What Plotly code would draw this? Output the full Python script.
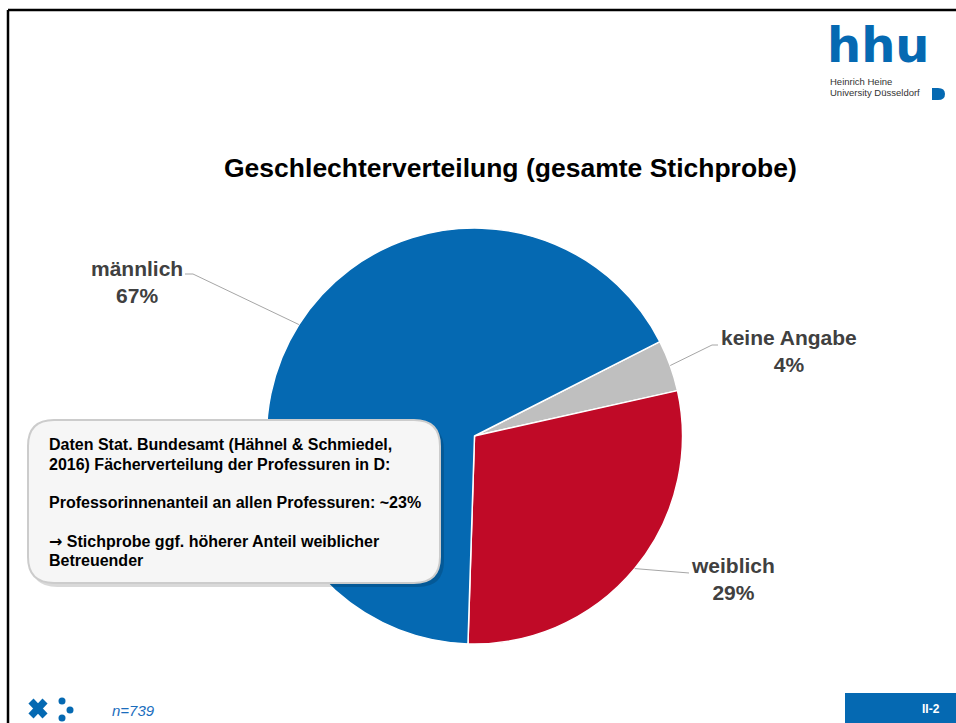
import math
import plotly.graph_objects as go

# data
labels = ["keine Angabe", "weiblich", "männlich"]
values = [4, 29, 67]
colors = ["#bfbfbf", "#c00a27", "#0569b2"]
n_total = 739

title = "Geschlechterverteilung (gesamte Stichprobe)"
note_lines = [
    "Daten Stat. Bundesamt (Hähnel & Schmiedel,",
    "2016) Fächerverteilung der Professuren in D:",
    "Professorinnenanteil an allen Professuren: ~23%",
    "<span style='font-family:DejaVu Sans'>→</span> Stichprobe ggf. höherer Anteil weiblicher",
    "Betreuender",
]

W, H = 956, 723
BLUE = "#0569b2"
FONT = "Liberation Sans, Arial"


def px(x):
    return x / W


def py(y):
    return 1 - y / H


# pie geometry in pixels
cx, cy, r = 474.5, 436, 208
rotation = 63

# label text centre and elbow of leader line (pixels)
label_pos = {
    "männlich": (137, 282, [(193, 274), (185, 274)]),
    "keine Angabe": (789, 351, [(712, 345), (718, 345)]),
    "weiblich": (733, 579, [(689, 573)]),
}

fig = go.Figure()

fig.add_trace(go.Pie(
    labels=labels,
    values=values,
    sort=False,
    direction="clockwise",
    rotation=rotation,
    marker=dict(colors=colors, line=dict(color="white", width=1.5)),
    textinfo="none",
    hoverinfo="label+percent",
    showlegend=False,
    domain=dict(x=[px(cx - r), px(cx + r)], y=[py(cy + r), py(cy - r)]),
))

shapes = []
annotations = []

# leader lines and labels, anchored at the middle of each slice
total = sum(values)
start = rotation
for lab, v in zip(labels, values):
    mid = math.radians(start + 360 * v / total / 2)
    start += 360 * v / total
    ex = cx + r * math.sin(mid)
    ey = cy - r * math.cos(mid)
    tx, ty, elbow = label_pos[lab]
    pts = [(ex, ey)] + elbow
    path = "M " + " L ".join(f"{px(a):.5f},{py(b):.5f}" for a, b in pts)
    shapes.append(dict(type="path", xref="paper", yref="paper", path=path,
                       line=dict(color="#a6a6a6", width=1)))
    annotations.append(dict(
        x=px(tx), y=py(ty), xref="paper", yref="paper", showarrow=False,
        text=f"<b>{lab}<br>{round(100 * v / total)}%</b>",
        font=dict(family=FONT, size=21, color="#404040"),
        xanchor="center", yanchor="middle",
    ))

# title
annotations.append(dict(
    x=px(511), y=py(168), xref="paper", yref="paper", showarrow=False,
    text=f"<b>{title}</b>", xanchor="center", yanchor="middle",
    font=dict(family=FONT, size=26.5, color="black"),
))

# slide frame
shapes.append(dict(type="line", xref="paper", yref="paper",
                   x0=px(8), x1=1.01, y0=py(10), y1=py(10),
                   line=dict(color="black", width=2.5)))
shapes.append(dict(type="line", xref="paper", yref="paper",
                   x0=px(8), x1=px(8), y0=py(10), y1=-0.01,
                   line=dict(color="black", width=2.5)))


def rounded_rect(x0, y0, x1, y1, rad):
    # pixel rect to paper path with rounded corners
    p = lambda a, b: f"{px(a):.5f},{py(b):.5f}"
    return (f"M {p(x0 + rad, y0)} L {p(x1 - rad, y0)} Q {p(x1, y0)} {p(x1, y0 + rad)} "
            f"L {p(x1, y1 - rad)} Q {p(x1, y1)} {p(x1 - rad, y1)} "
            f"L {p(x0 + rad, y1)} Q {p(x0, y1)} {p(x0, y1 - rad)} "
            f"L {p(x0, y0 + rad)} Q {p(x0, y0)} {p(x0 + rad, y0)} Z")


# callout box with a soft shadow
shapes.append(dict(type="path", xref="paper", yref="paper",
                   path=rounded_rect(31, 424, 444, 587, 26),
                   fillcolor="rgba(0,0,0,0.15)", line=dict(width=0)))
shapes.append(dict(type="path", xref="paper", yref="paper",
                   path=rounded_rect(28, 420, 440, 583, 26),
                   fillcolor="#f6f6f6", line=dict(color="#cccccc", width=2)))

note_y = [444, 464, 502, 541, 560]
for txt, yy in zip(note_lines, note_y):
    annotations.append(dict(
        x=px(47), y=py(yy), xref="paper", yref="paper", showarrow=False,
        text=f"<b>{txt}</b>", xanchor="left", yanchor="middle",
        font=dict(family=FONT, size=16, color="black"),
    ))

# hhu logo
annotations.append(dict(
    x=px(825), y=py(45), xref="paper", yref="paper", showarrow=False,
    text="<b>hhu</b>", xanchor="left", yanchor="middle",
    font=dict(family="DejaVu Sans", size=48, color=BLUE),
))
for txt, yy in [("Heinrich Heine", 81), ("University Düsseldorf", 92)]:
    annotations.append(dict(
        x=px(828), y=py(yy), xref="paper", yref="paper", showarrow=False,
        text=txt, xanchor="left", yanchor="middle",
        font=dict(family=FONT, size=9.5, color="#333333"),
    ))
shapes.append(dict(type="path", xref="paper", yref="paper",
                   path=f"M {px(932)},{py(88)} L {px(938)},{py(88)} "
                        f"Q {px(945)},{py(88)} {px(945)},{py(94)} "
                        f"Q {px(945)},{py(100)} {px(938)},{py(100)} "
                        f"L {px(932)},{py(100)} Z",
                   fillcolor=BLUE, line=dict(width=0)))

# footer logo
shapes.append(dict(type="line", xref="paper", yref="paper",
                   x0=px(31), y0=py(701), x1=px(45), y1=py(716),
                   line=dict(color=BLUE, width=7)))
shapes.append(dict(type="line", xref="paper", yref="paper",
                   x0=px(31), y0=py(716), x1=px(45), y1=py(701),
                   line=dict(color=BLUE, width=7)))
for dx, dy in [(62, 701), (70, 710), (62, 718)]:
    shapes.append(dict(type="circle", xref="paper", yref="paper",
                       x0=px(dx - 3.5), x1=px(dx + 3.5), y0=py(dy + 3.5), y1=py(dy - 3.5),
                       fillcolor=BLUE, line=dict(width=0)))

annotations.append(dict(
    x=px(110), y=py(710), xref="paper", yref="paper", showarrow=False,
    text=f"<i>n={n_total}</i>", xanchor="left", yanchor="middle",
    font=dict(family=FONT, size=15, color="#1a6dbd"),
))

# page number box
shapes.append(dict(type="rect", xref="paper", yref="paper",
                   x0=px(845), x1=1.01, y0=-0.01, y1=py(693),
                   fillcolor=BLUE, line=dict(width=0)))
annotations.append(dict(
    x=px(931), y=py(709), xref="paper", yref="paper", showarrow=False,
    text="<b>II-2</b>", xanchor="center", yanchor="middle",
    font=dict(family=FONT, size=12, color="white"),
))

fig.update_layout(
    width=W, height=H,
    margin=dict(l=0, r=0, t=0, b=0),
    paper_bgcolor="white",
    plot_bgcolor="white",
    shapes=shapes,
    annotations=annotations,
)

# drop the default page margin so the figure fills the window
fig.write_html("out.html", config={"displayModeBar": False},
               post_script="document.body.style.margin='0';document.body.style.overflow='hidden';")
